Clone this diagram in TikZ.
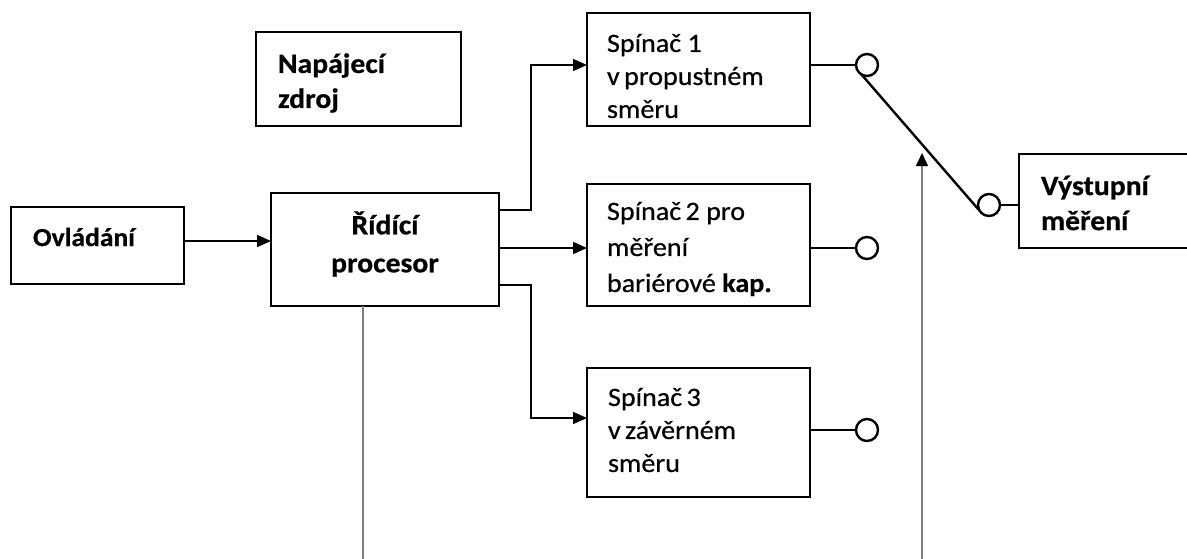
\documentclass[tikz,border=0pt]{standalone}
\usepackage{fontspec}
\setmainfont{Carlito}[FakeStretch=1.06, FakeBold=0.6]
\usetikzlibrary{arrows.meta}
\begin{document}
\begin{tikzpicture}[x=1pt,y=-1pt,
  box/.style={draw=black, line width=1.8pt, inner sep=0pt, outer sep=0pt},
  lbl/.style={inner sep=0pt, outer sep=0pt, anchor=west, align=left},
  conn/.style={line width=1.5pt},
  arr/.style={conn, -{Triangle[length=14pt,width=12pt]}},
  term/.style={circle, draw=black, line width=2.4pt, fill=white, minimum size=22pt, inner sep=0pt, outer sep=0pt},
  grayline/.style={line width=1.5pt, draw=black!50}]
\useasboundingbox (0,0) rectangle (1187,558);
\clip (0,0) rectangle (1187,558);
% boxes
\node[box, minimum width=205pt, minimum height=94pt] (nap) at (358.5,79) {};
\node[box, minimum width=173pt, minimum height=77pt] (ovl) at (97.5,245.5) {};
\node[box, minimum width=228pt, minimum height=113pt] (proc) at (385,249.5) {};
\node[box, minimum width=223pt, minimum height=113pt] (s1) at (698.5,69.5) {};
\node[box, minimum width=223pt, minimum height=122pt] (s2) at (698.5,245) {};
\node[box, minimum width=223pt, minimum height=129pt] (s3) at (698.5,432.5) {};
\node[box, minimum width=231pt, minimum height=94pt] (out) at (1134.5,201) {};
% texts
\node[lbl, font=\fontsize{28}{35}\selectfont\bfseries] (napt) at (278,83) {Napájecí\\zdroj};
\node[lbl, font=\fontsize{26}{32}\selectfont\bfseries] (ovlt) at (33,237) {Ovládání};
\node[inner sep=0pt, align=center, font=\fontsize{28}{38}\selectfont\bfseries] (proct) at (385,244) {Řídící\\procesor};
\node[lbl, font=\fontsize{26.5}{33}\selectfont] (s1t) at (607,76) {Spínač 1\\v\,propustném\\směru};
\node[lbl, font=\fontsize{26.5}{36}\selectfont] (s2t) at (607,249) {Spínač\,2 pro\\měření\\bariérové \textbf{kap.}};
\node[lbl, font=\fontsize{26.5}{33}\selectfont] (s3t) at (608,430) {Spínač\,3\\v\,závěrném\\směru};
\node[lbl, font=\fontsize{28}{35}\selectfont\bfseries] (outt) at (1041,203) {Výstupní\\měření};
% terminals
\node[term] (c1) at (867,65) {};
\node[term] (c2) at (867,248) {};
\node[term] (c3) at (867,430) {};
\node[term] (co) at (989,205) {};
% helper coordinates
\coordinate (a1) at (0,241);
\coordinate (p1) at (0,210);
\coordinate (p2) at (0,248);
\coordinate (p3) at (0,285);
\coordinate (v1) at (531,65);
\coordinate (v3) at (531,418);
\coordinate (g1) at (363,560);
\coordinate (g2) at (922,560);
\coordinate (g2t) at (922,153);
% connectors
\draw[arr] (ovl.east |- a1) -- (proc.west |- a1);
\draw[arr] (proc.east |- p1) -| (v1) -- (s1.west |- v1);
\draw[arr] (proc.east |- p2) -- (s2.west |- p2);
\draw[arr] (proc.east |- p3) -| (v3) -- (s3.west |- v3);
\draw[conn] (s1.east |- c1) -- (c1);
\draw[conn] (s2.east |- c2) -- (c2);
\draw[conn] (s3.east |- c3) -- (c3);
\draw[conn] (co) -- (out.west |- co);
\draw[line width=2.4pt] (c1.240) -- (co.212);
\draw[grayline] (g1 |- proc.south) -- (g1);
\draw[grayline, -{Triangle[length=13pt,width=12pt,color=black]}] (g2) -- (g2t);
\end{tikzpicture}
\end{document}
